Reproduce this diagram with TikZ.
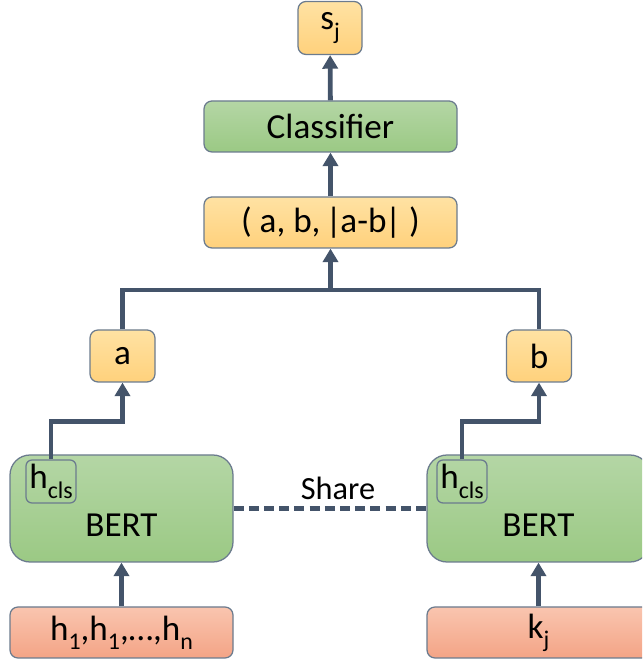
\documentclass[tikz,border=0pt]{standalone}
\usepackage{fontspec}
\setmainfont{Carlito}
\usetikzlibrary{arrows.meta}

\definecolor{lineblue}{HTML}{44546A}
\definecolor{edgegray}{HTML}{6B7B8E}
\definecolor{orgtop}{HTML}{FFE2A3}
\definecolor{orgbot}{HTML}{FFD17C}
\definecolor{grntop}{HTML}{B4D6A5}
\definecolor{grnbot}{HTML}{9BC984}
\definecolor{saltop}{HTML}{F9C5AF}
\definecolor{salbot}{HTML}{F4A486}

% lowered subscript
\newcommand{\lowsub}[1]{\raisebox{-0.55ex}{\fontsize{17}{20}\selectfont #1}}

\begin{document}
\begin{tikzpicture}[
    font=\fontsize{25}{30}\selectfont,
    box/.style={draw=edgegray, line width=0.9pt, rounded corners=0.2cm, inner sep=0pt, align=center},
    orgbox/.style={box, top color=orgtop, bottom color=orgbot},
    grnbox/.style={box, top color=grntop, bottom color=grnbot},
    salbox/.style={box, top color=saltop, bottom color=salbot},
    bertbox/.style={grnbox, rounded corners=0.5cm, minimum width=5.575cm, minimum height=2.675cm},
    clsbox/.style={draw=edgegray, line width=0.9pt, rounded corners=0.15cm, minimum width=1.25cm, minimum height=1.075cm, inner sep=0pt},
    conn/.style={draw=lineblue, line width=0.12cm},
    arrow/.style={conn, -{Triangle[width=0.38cm,length=0.34cm]}}
]
\useasboundingbox (0,0) rectangle (16.05,16.575);
\clip (0,0) rectangle (16.05,16.575);

% top part
\node[orgbox, minimum width=1.6cm, minimum height=1.325cm] (sj) at (8.25,15.875) {s\lowsub{j}};
\node[grnbox, minimum width=6.325cm, minimum height=1.275cm] (clf) at (8.2625,13.4125) {Classifier};
\node[orgbox, minimum width=6.325cm, minimum height=1.275cm] (abc) at (8.2625,11.0125) {( a, b, \kern-2pt|\kern-1pt a-b\kern-1pt|\ )};

\node[orgbox, minimum width=1.625cm, minimum height=1.3cm] (a) at (3.0625,7.675) {a};
\node[orgbox, minimum width=1.625cm, minimum height=1.3cm] (b) at (13.475,7.675) {b};
\coordinate (jn) at (8.2625,9.325);

% encoders
\node[bertbox] (bertl) at (3.0375,3.8625) {\\[0.35cm]BERT};
\node[bertbox] (bertr) at (13.4625,3.8625) {\\[0.35cm]BERT};
\node[clsbox] (hcl) at (1.275,4.5375) {h\lowsub{cls}};
\node[clsbox] (hcr) at (11.55,4.5375) {h\lowsub{cls}};
\node[font=\fontsize{23}{28}\selectfont] (share) at (8.45,4.375) {Share};

% inputs
\node[salbox, minimum width=5.575cm, minimum height=1.275cm] (hin) at (3.0375,0.7625) {h\lowsub{1},h\lowsub{1},\dots,h\lowsub{n}};
\node[salbox, minimum width=5.575cm, minimum height=1.275cm] (kin) at (13.4625,0.7625) {k\lowsub{j}};

% connectors
\draw[arrow] (hin) -- (bertl);
\draw[arrow] (kin) -- (bertr);
\draw[conn, dash pattern=on 0.25cm off 0.13cm] (bertl) -- (bertr);
\draw[arrow] (hcl.north) -- ++(0,0.95) -| (a.south);
\draw[arrow] (hcr.north) -- ++(0,0.95) -| (b.south);
\draw[conn] (a.north) |- (jn) -| (b.north);
\draw[arrow] (jn) -- (abc.south);
\draw[arrow] (abc) -- (clf);
\draw[arrow] (clf) -- (sj);

\end{tikzpicture}
\end{document}
